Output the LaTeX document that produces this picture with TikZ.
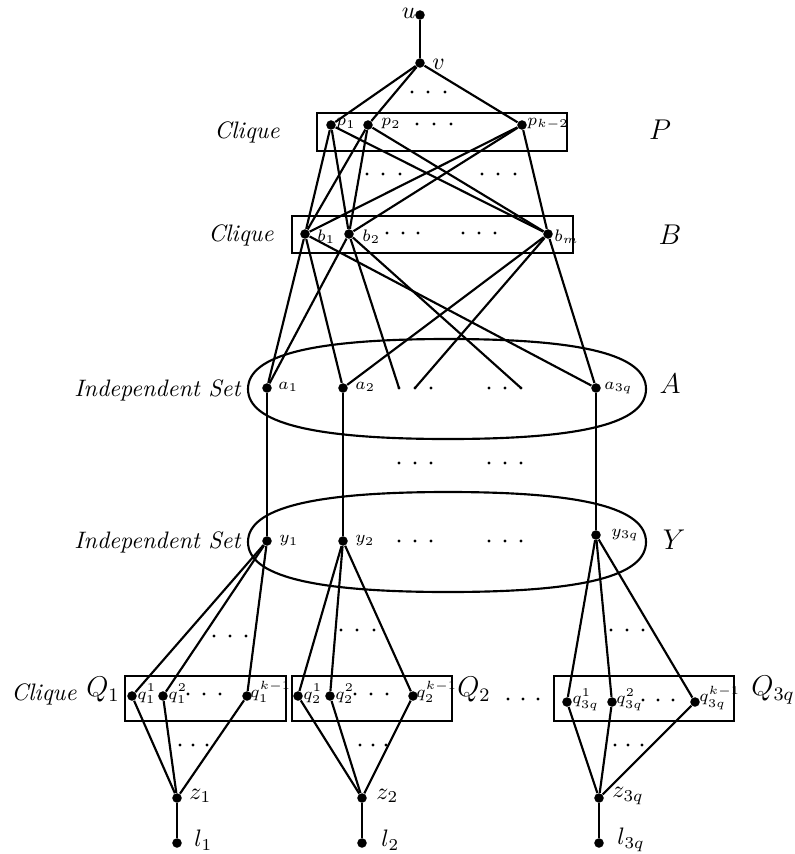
\documentclass[tikz,border=0pt]{standalone}
\begin{document}
\begin{tikzpicture}[x=0.42pt,y=-0.42pt,
  vtx/.style={circle,fill=black,inner sep=0pt,minimum size=4pt},
  edge/.style={line width=0.9pt},
  box/.style={line width=0.9pt},
  sml/.style={font=\scriptsize,inner sep=0pt,anchor=west},
  nrm/.style={font=\normalsize,inner sep=0pt,anchor=west},
  big/.style={font=\large,inner sep=0pt},
  side/.style={font=\normalsize,inner sep=0pt},
]
\useasboundingbox (0,0) rectangle (795,854);

% ---------- containers ----------
\draw[box] (248,389) .. controls (248,355) and (313,339) .. (448,339)
  .. controls (583,339) and (646,355) .. (646,389)
  .. controls (646,423) and (583,439) .. (448,439)
  .. controls (313,439) and (248,423) .. (248,389) -- cycle;
\draw[box] (248,542) .. controls (248,508) and (313,492) .. (448,492)
  .. controls (583,492) and (646,508) .. (646,542)
  .. controls (646,576) and (583,592) .. (448,592)
  .. controls (313,592) and (248,576) .. (248,542) -- cycle;
\draw[box] (317,113) rectangle (567,151);
\draw[box] (292,216) rectangle (573,253);
\draw[box] (125,676) rectangle (286,721);
\draw[box] (292,676) rectangle (452,721);
\draw[box] (554,676) rectangle (734,721);

% ---------- vertices ----------
\node[vtx] (u) at (420,15) {};
\node[vtx] (v) at (420,63) {};
\node[vtx] (p1) at (331,125) {};
\node[vtx] (p2) at (368,125) {};
\node[vtx] (pk) at (522,125) {};
\node[vtx] (b1) at (305,234) {};
\node[vtx] (b2) at (349,234) {};
\node[vtx] (bm) at (548,234) {};
\node[vtx] (a1) at (267,388) {};
\node[vtx] (a2) at (343,388) {};
\node[vtx] (a3) at (596,388) {};
\coordinate (d1) at (399,388);
\coordinate (d2) at (415,388);
\coordinate (d6) at (521,388);
\node[vtx] (y1) at (267,541) {};
\node[vtx] (y2) at (343,541) {};
\node[vtx] (y3) at (596,535) {};
\node[vtx] (q11) at (132,696) {};
\node[vtx] (q12) at (163,696) {};
\node[vtx] (q1k) at (247,696) {};
\node[vtx] (q21) at (298,696) {};
\node[vtx] (q22) at (330,696) {};
\node[vtx] (q2k) at (413,696) {};
\node[vtx] (q31) at (567,702) {};
\node[vtx] (q32) at (612,702) {};
\node[vtx] (q3k) at (695,702) {};
\node[vtx] (z1) at (177,798) {};
\node[vtx] (z2) at (362,798) {};
\node[vtx] (z3) at (599,798) {};
\node[vtx] (l1) at (177,843) {};
\node[vtx] (l2) at (362,843) {};
\node[vtx] (l3) at (599,843) {};

% ---------- edges ----------
\draw[edge] (u) -- (v);
\foreach \p in {p1,p2,pk} \draw[edge] (v) -- (\p);
\foreach \p in {p1,p2,pk} \foreach \b in {b1,b2,bm} \draw[edge] (\p) -- (\b);
\draw[edge] (b1) -- (a1);
\draw[edge] (b1) -- (a2);
\draw[edge] (b1) -- (a3);
\draw[edge] (b2) -- (a1);
\draw[edge] (b2) -- (d1);
\draw[edge] (b2) -- (d6);
\draw[edge] (bm) -- (a2);
\draw[edge] (bm) -- (d2);
\draw[edge] (bm) -- (a3);
\draw[edge] (a1) -- (y1);
\draw[edge] (a2) -- (y2);
\draw[edge] (a3) -- (y3);
\foreach \q in {q11,q12,q1k} {\draw[edge] (y1) -- (\q); \draw[edge] (\q) -- (z1);}
\foreach \q in {q21,q22,q2k} {\draw[edge] (y2) -- (\q); \draw[edge] (\q) -- (z2);}
\foreach \q in {q31,q32,q3k} {\draw[edge] (y3) -- (\q); \draw[edge] (\q) -- (z3);}
\draw[edge] (z1) -- (l1);
\draw[edge] (z2) -- (l2);
\draw[edge] (z3) -- (l3);

% ---------- ellipsis dots ----------
\foreach \x/\y in {412/92,428/92,445/92,
  417/124,434/124,451/124,
  367/174,383/174,400/174,482/174,498/174,515/174,
  387/233,403/233,418/233,463/233,479/233,495/233,
  399/388,415/388,431/388,489/388,505/388,521/388,
  399/463,415/463,431/463,489/463,505/463,521/463,
  399/541,415/541,431/541,489/541,505/541,521/541,
  214/636,230/636,246/636,188/694,204/694,220/694,180/745,193/745,207/745,
  341/630,357/630,374/630,355/694,371/694,387/694,360/745,373/745,386/745,
  508/699,523/699,538/699,
  611/630,627/630,643/630,643/700,658/700,673/700,615/745,628/745,642/745}
  \fill (\x,\y) circle[radius=0.7pt];

% ---------- vertex labels ----------
\node[side,anchor=east] (ul) at (416,13) {$u$};
\node[nrm] (vl) at (432,64) {$v$};
\node[sml] (p1l) at (336,124) {$p_1$};
\node[sml] (p2l) at (381,124) {$p_2$};
\node[sml] (pkl) at (527,124) {$p_{k-2}$};
\node[sml] (b1l) at (317,237) {$b_1$};
\node[sml] (b2l) at (362,237) {$b_2$};
\node[sml] (bml) at (554,237) {$b_m$};
\node[sml] (a1l) at (278,387) {$a_1$};
\node[sml] (a2l) at (355,387) {$a_2$};
\node[sml] (a3l) at (604,388) {$a_{3q}$};
\node[sml] (y1l) at (279,541) {$y_1$};
\node[sml] (y2l) at (355,541) {$y_2$};
\node[sml] (y3l) at (611,535) {$y_{3q}$};
\node[sml] (q11l) at (137,694) {$q_1^1$};
\node[sml] (q12l) at (168,694) {$q_1^2$};
\node[sml] (q1kl) at (250,692) {$q_1^{k-1}$};
\node[sml] (q21l) at (303,694) {$q_2^1$};
\node[sml] (q22l) at (335,694) {$q_2^2$};
\node[sml] (q2kl) at (416,692) {$q_2^{k-1}$};
\node[sml] (q31l) at (572,700) {$q_{3q}^1$};
\node[sml] (q32l) at (616,700) {$q_{3q}^2$};
\node[sml] (q3kl) at (699,698) {$q_{3q}^{k-1}$};
\node[nrm] (z1l) at (189,796) {$z_1$};
\node[nrm] (z2l) at (376,796) {$z_2$};
\node[nrm] (z3l) at (612,796) {$z_{3q}$};
\node[nrm] (l1l) at (194,840) {$l_1$};
\node[nrm] (l2l) at (381,840) {$l_2$};
\node[nrm] (l3l) at (617,840) {$l_{3q}$};

% ---------- side labels ----------
\node[side] (cP) at (247,132) {\textit{Clique}};
\node[side] (cB) at (241,235) {\textit{Clique}};
\node[side] (iA) at (158,390) {\textit{Independent Set}};
\node[side] (iY) at (158,542) {\textit{Independent Set}};
\node[side] (cQ) at (44,694) {\textit{Clique}};
\node[big] (lP) at (660,130) {$P$};
\node[big] (lB) at (670,235) {$B$};
\node[big] (lA) at (670,384) {$A$};
\node[big] (lY) at (674,540) {$Y$};
\node[big] (lQ1) at (103,690) {$Q_1$};
\node[big] (lQ2) at (474,690) {$Q_2$};
\node[big] (lQ3) at (773,690) {$Q_{3q}$};
\end{tikzpicture}
\end{document}
